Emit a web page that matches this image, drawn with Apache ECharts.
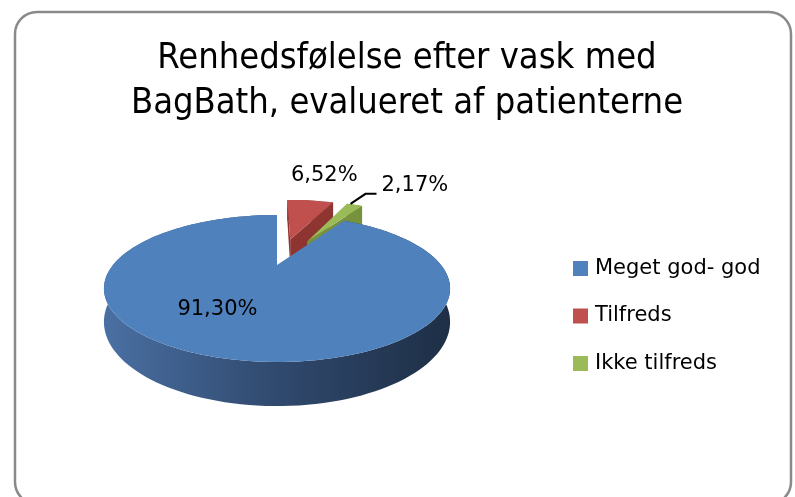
<!DOCTYPE html>
<html>
<head>
<meta charset="utf-8">
<title>Renhedsfølelse efter vask med BagBath</title>
<script src="https://cdn.jsdelivr.net/npm/echarts@6/dist/echarts.min.js"></script>
<style>html,body{margin:0;padding:0;background:#fff;}</style>
</head>
<body>
<div id="main" style="width:795px;height:497px;"></div>
<script type="text/javascript">
// data
var categories = ['Meget god- god', 'Tilfreds', 'Ikke tilfreds'];
var values = [91.30, 6.52, 2.17];

// looks
var colors = ['#4f81bd', '#c0504d', '#9bbb59'];
var faceColors = ['#2f4a6e', '#8e3532', '#76923c'];
var explode = [0, 0.45, 0.45];
var labelRadius = [0.6, 1.45, 1.45];
var labelShift = [[-27, -2], [14, -25], [27, -19]];
var labelAlign = ['center', 'center', 'left'];

// perspective of the 3d pie, fitted on the picture
var cx = 277, cy = 265, ax = 164, dz = 18.74, persp = 0.3197, depth = 30;
var firstAngle = 31.3;
var camZ = -3.6;

var proj = function (X, Z, bottom) {
    var w = 1 + persp * Z;
    return [cx + ax * X / w, (dz * Z + cy + (bottom ? depth : 0)) / w];
};

var total = values.reduce(function (s, v) { return s + v; }, 0);
var angles = [];
var acc = firstAngle;
values.forEach(function (v) {
    var span = v / total * 360;
    angles.push([acc, acc + span]);
    acc += span;
});

var fmt = function (v) {
    return v.toFixed(2).replace('.', ',') + '%';
};

var blueWall = new echarts.graphic.LinearGradient(103, 0, 449, 0, [
    {offset: 0, color: '#4a70a3'},
    {offset: 0.5, color: '#30496e'},
    {offset: 1, color: '#1e2f46'}
], true);

var renderSlice = function (idx) {
    return function (params, api) {
        var rad = Math.PI / 180;
        var s = angles[idx][0], e = angles[idx][1];
        var mid = (s + e) / 2 * rad;
        var ox = explode[idx] * Math.sin(mid), oz = explode[idx] * Math.cos(mid);
        var rimTop = [], rimBot = [];
        var n = Math.max(2, Math.ceil((e - s) / 2));
        for (var k = 0; k <= n; k++) {
            var t = (s + (e - s) * k / n) * rad;
            rimTop.push(proj(ox + Math.sin(t), oz + Math.cos(t), false));
            rimBot.push(proj(ox + Math.sin(t), oz + Math.cos(t), true));
        }
        var cTop = proj(ox, oz, false), cBot = proj(ox, oz, true);
        var children = [];
        // outer wall
        children.push({
            type: 'polygon',
            shape: {points: rimTop.concat(rimBot.slice().reverse())},
            style: {fill: idx === 0 ? blueWall : faceColors[idx]}
        });
        // cut faces, only the ones that face the viewer
        [[s, -1], [e, 1]].forEach(function (f) {
            var t = f[0] * rad;
            var nx = f[1] * Math.cos(t), nz = -f[1] * Math.sin(t);
            var px = ox + 0.5 * Math.sin(t), pz = oz + 0.5 * Math.cos(t);
            if (-px * nx + (camZ - pz) * nz > 0.01) {
                var rt = proj(ox + Math.sin(t), oz + Math.cos(t), false);
                var rb = proj(ox + Math.sin(t), oz + Math.cos(t), true);
                children.push({
                    type: 'polygon',
                    shape: {points: [cTop, rt, rb, cBot]},
                    style: {fill: faceColors[idx]}
                });
            }
        });
        // top face
        children.push({
            type: 'polygon',
            shape: {points: [cTop].concat(rimTop)},
            style: {fill: colors[idx]}
        });
        // data label
        var lr = labelRadius[idx];
        var anchor = proj(lr * Math.sin(mid), lr * Math.cos(mid), false);
        if (idx === 2) {
            children.push({
                type: 'polyline',
                shape: {points: [
                    [anchor[0] - 4, anchor[1] - 1],
                    [anchor[0] + 11, anchor[1] - 11],
                    [anchor[0] + 22, anchor[1] - 11]
                ]},
                style: {stroke: '#000', lineWidth: 2, fill: null}
            });
        }
        children.push({
            type: 'text',
            x: anchor[0] + labelShift[idx][0],
            y: anchor[1] + labelShift[idx][1],
            style: {
                text: fmt(values[idx]),
                fontFamily: 'DejaVu Sans',
                fontSize: 21,
                fill: '#000',
                align: labelAlign[idx],
                verticalAlign: 'middle'
            }
        });
        return {type: 'group', children: children};
    };
};

// blue has to be painted last, it is in front
var zOrder = [4, 2, 3];

var series = categories.map(function (name, i) {
    return {
        name: name,
        type: 'custom',
        coordinateSystem: 'none',
        z: zOrder[i],
        itemStyle: {color: colors[i]},
        renderItem: renderSlice(i),
        data: [[values[i]]]
    };
});

var myChart = echarts.init(document.getElementById('main'));
var option = {
    animation: false,
    title: {
        text: 'Renhedsfølelse efter vask med\nBagBath, evalueret af patienterne',
        left: 402,
        top: 31,
        textAlign: 'center',
        textStyle: {
            fontFamily: 'DejaVu Sans Condensed, DejaVu Sans, sans-serif',
            fontSize: 36,
            fontWeight: 'normal',
            color: '#000',
            lineHeight: 45
        }
    },
    legend: {
        orient: 'vertical',
        left: 568,
        top: 253,
        itemWidth: 15,
        itemHeight: 15,
        itemGap: 26.5,
        icon: 'rect',
        data: categories,
        textStyle: {
            fontFamily: 'DejaVu Sans',
            fontSize: 21,
            lineHeight: 21,
            color: '#000',
            padding: [0, 0, 0, 2]
        }
    },
    graphic: [{
        type: 'rect',
        z: -1,
        shape: {x: 15, y: 12, width: 776, height: 492, r: 22},
        style: {fill: '#fff', stroke: '#8a8a8a', lineWidth: 2.5}
    }],
    series: series
};
myChart.setOption(option);
</script>
</body>
</html>
